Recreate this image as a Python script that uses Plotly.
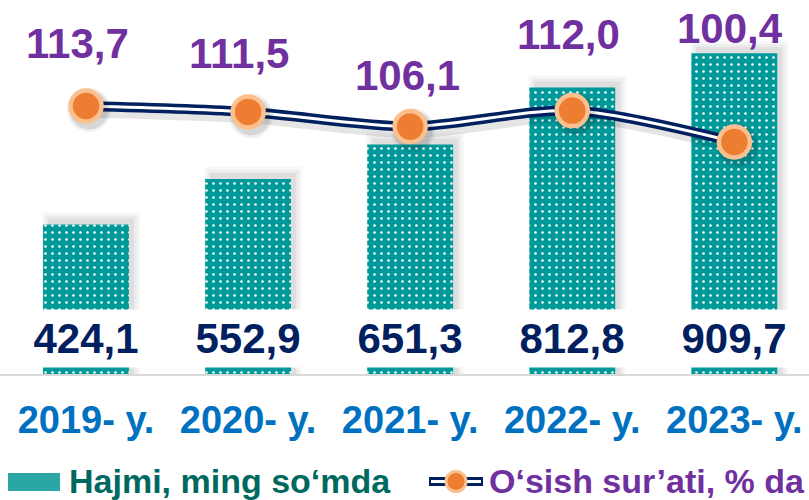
import plotly.graph_objects as go

# ---------------- data ----------------
categories = ["2019- y.", "2020- y.", "2021- y.", "2022- y.", "2023- y."]
volume = [424.1, 552.9, 651.3, 812.8, 909.7]          # Hajmi, ming so'mda
growth = [113.7, 111.5, 106.1, 112.0, 100.4]          # O'sish sur'ati, % da
series_names = ["Hajmi, ming so‘mda", "O‘sish sur’ati, % da"]

# ---------------- styles / geometry ----------------
W, H = 809, 500
PLOT_T, PLOT_B = 40, 374
x_range = [-0.5305, 4.4605]
y_range = [0, 947.5]
y2_range = [14.70, 138.08]
bar_w = 0.53

TEAL = "#00999A"
NAVY = "#002060"
PURPLE = "#7030A0"
BLUE = "#0070C0"
ORANGE = "#ED7D31"
PEACH = "#FAC08F"
LEG_TEAL = "#00695F"
FONT = "Liberation Sans, Arial, sans-serif"

label_yshift = [62.5, 58, 51, 76, 114]
label_xshift = [-8.5, -9.5, -2.5, -4, -4.5]

ux = (x_range[1] - x_range[0]) / W                 # x units per px
uy = (y_range[1] - y_range[0]) / (PLOT_B - PLOT_T)  # y units per px
uy2 = (y2_range[1] - y2_range[0]) / (PLOT_B - PLOT_T)


def px(p):
    return p / W


def py(p):
    return (PLOT_B - p) / (PLOT_B - PLOT_T)


def fmt(v):
    return f"{v:.1f}".replace(".", ",")


x = list(range(len(categories)))

fig = go.Figure()

# bar shadows (soft, up-right)
for grow, alpha in [(6, 0.03), (3, 0.045), (0, 0.06)]:
    fig.add_bar(
        x=x, y=[v + (6 + grow) * uy for v in volume],
        width=bar_w + 2 * grow * ux,
        offset=-(bar_w / 2) - grow * ux + 5 * ux,
        marker=dict(color=f"rgba(0,0,0,{alpha})", line_width=0),
        hoverinfo="skip", showlegend=False,
    )

# main bars
fig.add_bar(
    x=x, y=volume, width=bar_w, offset=-bar_w / 2, name=series_names[0],
    marker=dict(color=TEAL, line_width=0,
                pattern=dict(shape=".", fgcolor="white", fgopacity=1,
                             size=7, solidity=0.11)),
    showlegend=False,
)

# line shadow
fig.add_scatter(
    x=[v + 3 * ux for v in x], y=[g - 4 * uy2 for g in growth], yaxis="y2",
    mode="lines", line=dict(color="rgba(0,0,0,0.10)", width=15, shape="spline", smoothing=0.8),
    hoverinfo="skip", showlegend=False,
)
# double line: navy outer, white inner
fig.add_scatter(
    x=x, y=growth, yaxis="y2", mode="lines", name=series_names[1],
    line=dict(color=NAVY, width=10, shape="spline", smoothing=0.8),
    showlegend=False,
)
fig.add_scatter(
    x=x, y=growth, yaxis="y2", mode="lines",
    line=dict(color="white", width=3, shape="spline", smoothing=0.8),
    hoverinfo="skip", showlegend=False,
)
# marker shadows
for size, alpha in [(44, 0.06), (39, 0.10)]:
    fig.add_scatter(
        x=[v + 3 * ux for v in x], y=[g - 4 * uy2 for g in growth], yaxis="y2",
        mode="markers", marker=dict(size=size, color=f"rgba(0,0,0,{alpha})", line_width=0),
        hoverinfo="skip", showlegend=False,
    )
# markers
fig.add_scatter(
    x=x, y=growth, yaxis="y2", mode="markers",
    marker=dict(size=31, color=ORANGE, line=dict(color=PEACH, width=4.5)),
    showlegend=False,
)

annotations = []
# value labels on white band
for xi, v in zip(x, volume):
    annotations.append(dict(
        x=xi, xref="x", y=py(338.5), yref="paper", yanchor="middle", xanchor="center",
        text=fmt(v), showarrow=False,
        font=dict(family=FONT, size=42, color=NAVY, weight="bold"),
        bgcolor="white", width=124, height=55, valign="middle", borderpad=1,
    ))
# growth labels
for xi, g, dy, dx in zip(x, growth, label_yshift, label_xshift):
    annotations.append(dict(
        x=xi, xref="x", y=g, yref="y2", text=fmt(g), showarrow=False,
        yanchor="middle", xanchor="center", yshift=dy, xshift=dx,
        font=dict(family=FONT, size=42, color=PURPLE, weight="bold"),
    ))
# legend texts
annotations.append(dict(
    x=px(67), xref="paper", y=py(481), yref="paper", xanchor="left", yanchor="middle",
    text=series_names[0], showarrow=False,
    font=dict(family=FONT, size=34, color=LEG_TEAL, weight="bold"),
))
annotations.append(dict(
    x=px(487), xref="paper", y=py(481), yref="paper", xanchor="left", yanchor="middle",
    text=series_names[1], showarrow=False,
    font=dict(family=FONT, size=34, color=PURPLE, weight="bold"),
))

shapes = [
    dict(type="rect", xref="paper", yref="paper", x0=px(8), x1=px(60), y0=py(491), y1=py(473),
         fillcolor="#2AA6A4", line_width=0),
    dict(type="line", xref="paper", yref="paper", x0=px(429), x1=px(483), y0=py(481.5), y1=py(481.5),
         line=dict(color=NAVY, width=9)),
    dict(type="line", xref="paper", yref="paper", x0=px(431), x1=px(481), y0=py(481.5), y1=py(481.5),
         line=dict(color="white", width=3)),
    dict(type="circle", xref="paper", yref="paper", x0=px(446), x1=px(466), y0=py(491.5), y1=py(471.5),
         fillcolor=ORANGE, line=dict(color=PEACH, width=3)),
]

fig.update_layout(
    width=W, height=H,
    margin=dict(l=0, r=0, t=PLOT_T, b=H - PLOT_B, pad=0),
    paper_bgcolor="white", plot_bgcolor="white",
    barmode="overlay", showlegend=False,
    xaxis=dict(range=x_range, tickvals=x, ticktext=categories,
               tickfont=dict(family=FONT, size=38, color=BLUE, weight="bold"),
               showline=True, linecolor="#D9D9D9", linewidth=1.5,
               showgrid=False, zeroline=False, ticks="", ticklabelstandoff=12,
               fixedrange=True, automargin=False),
    yaxis=dict(range=y_range, visible=False, fixedrange=True),
    yaxis2=dict(range=y2_range, overlaying="y", visible=False, fixedrange=True),
    annotations=annotations, shapes=shapes,
)

fig.write_html(
    "out.html",
    config={"displayModeBar": False},
    post_script="document.body.style.margin='0';document.body.style.overflow='hidden';",
)
